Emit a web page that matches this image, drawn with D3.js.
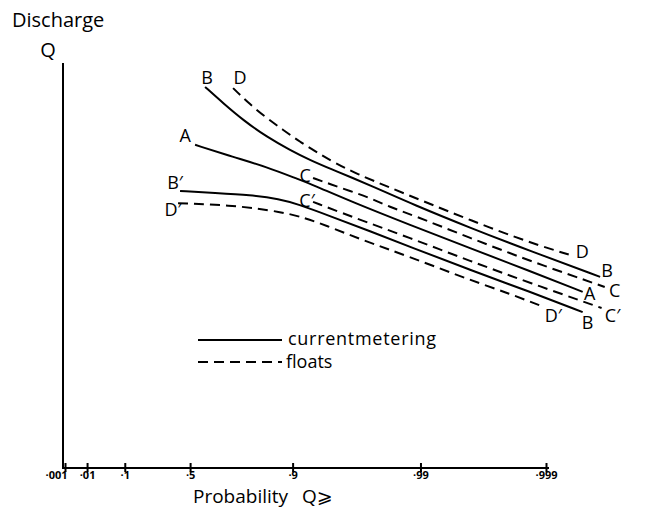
<!DOCTYPE html>
<head>
  <meta charset="utf-8">
  <script src="https://d3js.org/d3.v7.min.js"></script>
  <style>
    body { margin:0; background:#fff; }
    text { font-family: "Open Sans", "DejaVu Sans", sans-serif; fill:#000; }
    .curve { fill:none; stroke:#000; stroke-width:2px; }
    .dash { stroke-dasharray: 10,6; }
  </style>
</head>

<body>
  <script>
    var width = 657, height = 515;

    // probability ticks (Gumbel probability paper)
    var tickProbs = [0.001, 0.01, 0.1, 0.5, 0.9, 0.99, 0.999];
    var tickLabels = ["·001", "·01", "·1", "·5", "·9", "·99", "·999"];

    // curves: probability / discharge (arbitrary units)
    var pB  = [.5907,.6851,.7697,.8450,.8955,.9264,.9511,.9640,.9802,.98791,.99597,.99866,.99963];
    var qB  = [94.1,90.1,85.9,81.7,78.5,76.0,73.6,71.9,68.4,65.4,59.3,53.6,47.2];
    var pD  = [.7301,.7841,.8397,.8820,.9123,.9361,.9529,.9683,.9820,.98993,.99597,.99866,.99936];
    var qD  = [93.8,90.4,86.7,83.5,80.5,77.8,75.3,72.6,69.4,66.2,61.2,55.6,52.6];
    var pC  = [.9302,.9485,.9640,.9749,.9826,.98791,.99597,.99866,.99966];
    var qC  = [71.6,70.1,68.4,66.7,64.4,62.7,56.8,51.1,44.7];
    var pA  = [.5312,.7301,.8450,.9076,.9302,.9640,.98791,.99597,.99866,.99949];
    var qA  = [79.8,76.8,74.3,71.4,69.9,65.9,60.0,54.3,48.6,43.5];
    var pC2 = [.9302,.9640,.98791,.99597,.99866,.99964];
    var qC2 = [65.7,62.2,56.8,51.1,45.7,39.5];
    var pB2 = [.4345,.6453,.7944,.8758,.9076,.9485,.9749,.98791,.99597,.99866,.99949];
    var qB2 = [68.4,67.9,67.4,66.4,65.2,62.2,58.5,54.6,48.9,43.5,38.5];
    var pD2 = [.4211,.7301,.8820,.9196,.9436,.9700,.98791,.99597,.99807,.99895];
    var qD2 = [65.4,64.9,63.2,61.7,60.0,56.5,52.1,46.4,43.0,39.8];

    // start / end labels, line style, label offsets
    var curves = [
      { p: pB,  q: qB,  start: "B",  end: "B",  dashed: false, s: [2,-3],  e: [7,0] },
      { p: pD,  q: qD,  start: "D",  end: "D",  dashed: true,  s: [7,-4],  e: [12,3] },
      { p: pC,  q: qC,  start: "C",  end: "C",  dashed: true,  s: [-8,4],  e: [10,10] },
      { p: pA,  q: qA,  start: "A",  end: "A",  dashed: false, s: [-10,-3], e: [7,8] },
      { p: pC2, q: qC2, start: "C′", end: "C′", dashed: true,  s: [-6,5],  e: [11,14] },
      { p: pB2, q: qB2, start: "B′", end: "B",  dashed: false, s: [-5,-2], e: [5,17] },
      { p: pD2, q: qD2, start: "D′", end: "D′", dashed: true,  s: [-5,13], e: [10,15] }
    ];

    function gumbel(p) { return -Math.log(-Math.log(p)); }

    var xScale = d3.scaleLinear()
      .domain([gumbel(0.001), gumbel(0.999)])
      .range([65, 546]);
    var yScale = d3.scaleLinear()
      .domain([0, 100])
      .range([468, 63]);

    var svg = d3.select("body").append("svg")
      .attr("width", width)
      .attr("height", height);

    // axes
    var axisX0 = 63;
    svg.append("line")
      .attr("x1", axisX0).attr("x2", axisX0)
      .attr("y1", yScale(100)).attr("y2", yScale(0))
      .attr("stroke", "#000").attr("stroke-width", 2);
    svg.append("line")
      .attr("x1", axisX0 - 1).attr("x2", 549)
      .attr("y1", yScale(0)).attr("y2", yScale(0))
      .attr("stroke", "#000").attr("stroke-width", 2);

    var xAxis = d3.axisBottom(xScale)
      .tickValues(tickProbs.map(gumbel))
      .tickSize(4)
      .tickFormat(function(d, i) { return tickLabels[i]; });

    var gx = svg.append("g")
      .attr("transform", "translate(0," + yScale(0) + ")")
      .call(xAxis);
    gx.select(".domain").remove();
    gx.selectAll(".tick line")
      .attr("y1", -5).attr("y2", 4)
      .attr("stroke-width", 2);
    gx.selectAll(".tick text")
      .attr("y", 3)
      .style("font-size", "11px")
      .style("font-weight", "bold")
      .style("font-family", "'Open Sans', sans-serif");
    gx.select(".tick text").attr("dx", -9);

    // curves
    var line = d3.line()
      .x(function(d) { return xScale(gumbel(d[0])); })
      .y(function(d) { return yScale(d[1]); })
      .curve(d3.curveBasis);

    curves.forEach(function(c) {
      var pts = c.p.map(function(p, i) { return [p, c.q[i]]; });
      svg.append("path")
        .datum(pts)
        .attr("class", "curve" + (c.dashed ? " dash" : ""))
        .attr("d", line);

      var first = pts[0], last = pts[pts.length - 1];
      svg.append("text")
        .attr("x", xScale(gumbel(first[0])) + c.s[0])
        .attr("y", yScale(first[1]) + c.s[1])
        .attr("text-anchor", "middle")
        .style("font-size", "18px")
        .text(c.start);
      svg.append("text")
        .attr("x", xScale(gumbel(last[0])) + c.e[0])
        .attr("y", yScale(last[1]) + c.e[1])
        .attr("text-anchor", "middle")
        .style("font-size", "18px")
        .text(c.end);
    });

    // legend
    var legend = svg.append("g").attr("transform", "translate(198,340)");
    legend.append("line").attr("x1", 0).attr("x2", 84).attr("y1", 0).attr("y2", 0)
      .attr("class", "curve");
    legend.append("text").attr("x", 90).attr("y", 5).style("font-size", "18px")
      .attr("textLength", 148)
      .text("currentmetering");
    legend.append("line").attr("x1", 0).attr("x2", 84).attr("y1", 22).attr("y2", 22)
      .attr("class", "curve dash");
    legend.append("text").attr("x", 88).attr("y", 28).style("font-size", "18px")
      .text("floats");

    // axis titles
    svg.append("text").attr("x", 12).attr("y", 27).style("font-size", "20px").text("Discharge");
    svg.append("text").attr("x", 48).attr("y", 57).attr("text-anchor", "middle")
      .style("font-size", "20px").text("Q");
    svg.append("text").attr("x", 193).attr("y", 503).style("font-size", "19px")
      .text("Probability");
    svg.append("text").attr("x", 302).attr("y", 503).style("font-size", "19px")
      .text("Q⩾");
  </script>
</body>
